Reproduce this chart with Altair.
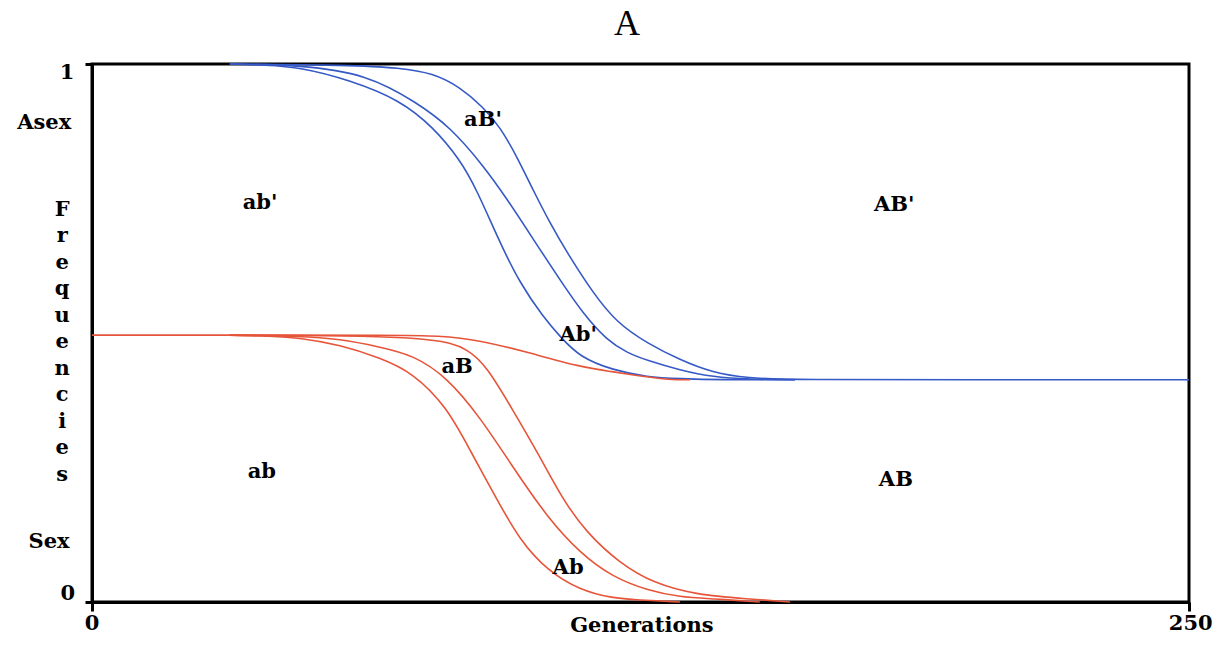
import altair as alt
import pandas as pd

# ---- curve data (generation, frequency) ----
B1_gen = [31.4, 39.4, 47.4, 58.8, 70.2, 77.7, 83.9, 87.7, 93.0, 97.5, 102.8, 106.7, 111.2, 118.7, 126.5, 134.0, 143.1, 160.2]
B1_frq = [1.0, 0.998, 0.994, 0.970, 0.933, 0.883, 0.822, 0.766, 0.667, 0.593, 0.530, 0.493, 0.455, 0.431, 0.418, 0.415, 0.413, 0.413]

B2_gen = [31.4, 47.4, 62.7, 74.1, 81.6, 89.1, 94.6, 100.5, 106.7, 111.9, 117.4, 122.0, 126.5, 134.0, 141.5, 150.0, 160.2]
B2_frq = [1.0, 0.998, 0.981, 0.928, 0.883, 0.812, 0.749, 0.675, 0.598, 0.536, 0.486, 0.463, 0.449, 0.431, 0.418, 0.414, 0.413]

B3_gen = [31.4, 58.8, 70.2, 77.7, 83.9, 89.1, 93.0, 96.9, 100.5, 104.4, 108.3, 114.2, 119.6, 126.5, 134.0, 141.5, 149.3, 160.2, 200, 250]
B3_frq = [1.0, 0.998, 0.993, 0.983, 0.957, 0.920, 0.883, 0.827, 0.766, 0.704, 0.649, 0.574, 0.519, 0.481, 0.450, 0.426, 0.416, 0.413, 0.413, 0.413]

R0_gen = [0, 31.4, 70.2, 78.6, 88.4, 99.8, 111.2, 118.7, 124.9, 131.7, 136.3]
R0_frq = [0.496, 0.496, 0.496, 0.495, 0.487, 0.463, 0.437, 0.428, 0.420, 0.413, 0.413]

R1_gen = [31.4, 40.6, 47.4, 56.5, 65.6, 73.2, 80.9, 86.1, 92.3, 97.5, 103.7, 111.2, 118.7, 124.2, 134.0]
R1_frq = [0.496, 0.494, 0.491, 0.478, 0.454, 0.426, 0.362, 0.283, 0.190, 0.115, 0.059, 0.022, 0.007, 0.004, 0.0]

R2_gen = [31.4, 47.4, 56.5, 65.6, 73.2, 80.9, 88.4, 95.9, 103.7, 111.2, 118.7, 126.5, 134.0, 141.5, 152.2]
R2_frq = [0.496, 0.494, 0.489, 0.474, 0.459, 0.418, 0.344, 0.251, 0.158, 0.091, 0.046, 0.022, 0.009, 0.006, 0.0]

R3_gen = [31.4, 78.6, 86.1, 90.0, 95.9, 102.1, 107.3, 112.8, 120.3, 127.9, 137.9, 149.3, 159.1]
R3_frq = [0.496, 0.495, 0.468, 0.437, 0.357, 0.270, 0.190, 0.128, 0.072, 0.035, 0.013, 0.006, 0.0]

# ---- region labels inside the plot ----
label_text = ["ab'", "aB'", "Ab'", "AB'", "ab", "aB", "Ab", "AB"]
label_gen = [38.3, 89.1, 110.8, 182.8, 38.7, 83.2, 108.5, 183.2]
label_frq = [0.742, 0.896, 0.496, 0.738, 0.242, 0.437, 0.063, 0.227]

# ---- labels outside the plot ----
out_text = ["1", "Asex", "Sex", "0", "0", "250", "Generations"]
out_gen = [-5.7, -10.9, -9.8, -5.5, 0, 250.4, 125.3]
out_frq = [0.983, 0.890, 0.112, 0.015, -0.041, -0.041, -0.045]

ylabel_text = "Frequencies"
ylabel_gen = [-6.8]
ylabel_frq = [0.729]

title_text = ["A"]
title_gen = [121.9]
title_frq = [1.074]

curves = [
    ("B1", "asex", B1_gen, B1_frq),
    ("B2", "asex", B2_gen, B2_frq),
    ("B3", "asex", B3_gen, B3_frq),
    ("R0", "sex", R0_gen, R0_frq),
    ("R1", "sex", R1_gen, R1_frq),
    ("R2", "sex", R2_gen, R2_frq),
    ("R3", "sex", R3_gen, R3_frq),
]
rows = []
for name, grp, gs, fs in curves:
    for i, (g, f) in enumerate(zip(gs, fs)):
        rows.append({"series": name, "group": grp, "gen": g, "frq": f, "i": i})
df = pd.DataFrame(rows)

xs = alt.Scale(domain=[0, 250], nice=False, zero=False)
ys = alt.Scale(domain=[0, 1], nice=False, zero=False)

xaxis = alt.Axis(values=[0, 250], labels=False, title=None, grid=False,
                 domainColor="black", domainWidth=3, tickColor="black",
                 tickWidth=3, tickSize=9)
yaxis = alt.Axis(values=[0, 1], labels=False, title=None, grid=False,
                 domainColor="black", domainWidth=3, tickColor="black",
                 tickWidth=3, tickSize=7)

lines = alt.Chart(df).mark_line(strokeWidth=1.6, interpolate="basis").encode(
    x=alt.X("gen:Q", scale=xs, axis=xaxis),
    y=alt.Y("frq:Q", scale=ys, axis=yaxis),
    color=alt.Color("group:N", scale=alt.Scale(domain=["asex", "sex"],
                                               range=["#3559c6", "#e6553a"]),
                    legend=None),
    detail="series:N",
    order="i:Q",
)

FONT = "DejaVu Serif"
FS = 21

lab_df = pd.DataFrame({"t": label_text, "gen": label_gen, "frq": label_frq})
labels = alt.Chart(lab_df).mark_text(font=FONT, fontWeight="bold",
                                     fontSize=FS, color="black",
                                     align="center", baseline="middle").encode(
    x=alt.X("gen:Q", scale=xs), y=alt.Y("frq:Q", scale=ys), text="t:N")

out_df = pd.DataFrame({"t": out_text, "gen": out_gen, "frq": out_frq})
outs = alt.Chart(out_df).mark_text(font=FONT, fontWeight="bold",
                                   fontSize=FS, color="black",
                                   align="center", baseline="middle").encode(
    x=alt.X("gen:Q", scale=xs), y=alt.Y("frq:Q", scale=ys), text="t:N")

yl_df = pd.DataFrame({"t": ["\n".join(list(ylabel_text))], "gen": ylabel_gen, "frq": ylabel_frq})
ylab = alt.Chart(yl_df).mark_text(font=FONT, fontWeight="bold",
                                  fontSize=FS, color="black", lineBreak="\n",
                                  lineHeight=26.5,
                                  align="center", baseline="middle").encode(
    x=alt.X("gen:Q", scale=xs), y=alt.Y("frq:Q", scale=ys), text="t:N")

t_df = pd.DataFrame({"t": title_text, "gen": title_gen, "frq": title_frq})
title = alt.Chart(t_df).mark_text(font="Liberation Serif", fontSize=36,
                                  color="black", align="center",
                                  baseline="middle").encode(
    x=alt.X("gen:Q", scale=xs), y=alt.Y("frq:Q", scale=ys), text="t:N")

chart = alt.layer(lines, labels, outs, ylab, title).properties(
    width=1097, height=538,
    autosize=alt.AutoSizeParams(type="none"),
    padding={"left": 92, "top": 64, "right": 33, "bottom": 43},
    background="white",
).configure_view(stroke="black", strokeWidth=3)

chart.save("out.html", embed_options={"renderer": "svg", "actions": False})
